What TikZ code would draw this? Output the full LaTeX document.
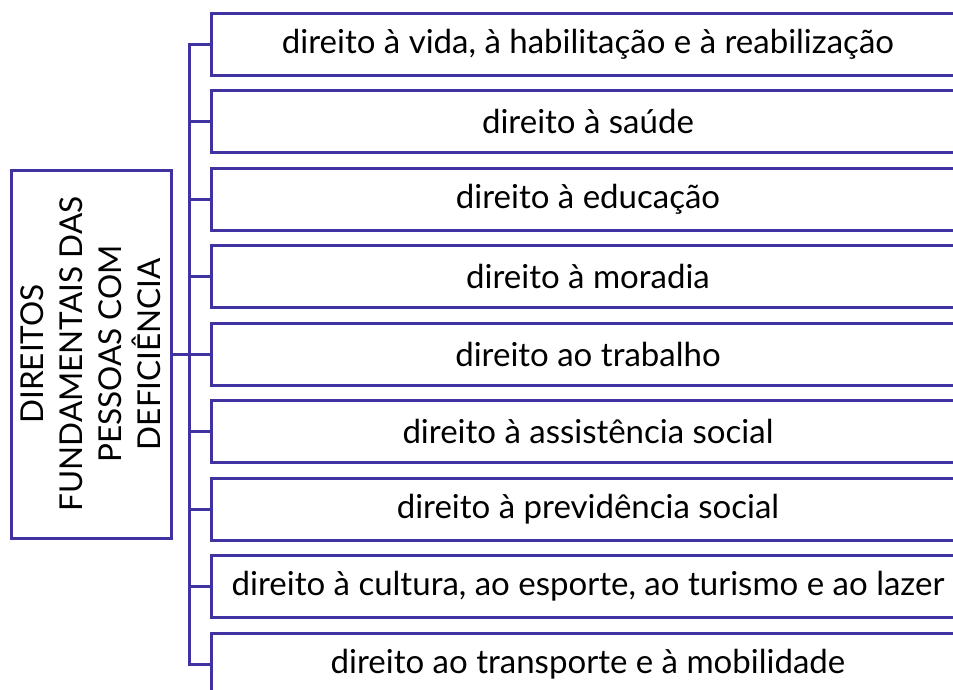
\documentclass[tikz,border=0pt]{standalone}
\usepackage{fontspec}
\setmainfont{Lato}
\definecolor{frame}{RGB}{64,50,160}
\begin{document}
\begin{tikzpicture}[x=1pt,y=-1pt,
  rbox/.style={draw=frame,line width=3pt,minimum width=754pt,minimum height=62pt,inner sep=0pt,font=\fontsize{33}{38}\selectfont,text=black},
  lbox/.style={draw=frame,line width=3pt,rotate=90,minimum width=368pt,minimum height=160pt,inner sep=0pt,align=center,font=\fontsize{31.5}{39}\selectfont,text=black},
  conn/.style={draw=frame,line width=3pt}]
\useasboundingbox (0,0) rectangle (953,689);
\clip (0,0) rectangle (953,689);
\node[lbox] (L) at (91,354) {DIREITOS\\FUNDAMENTAIS DAS\\PESSOAS COM\\DEFICIÊNCIA};
\node[rbox] (b1) at (588,44) {direito à vida, à habilitação e à reabilização};
\node[rbox] (b2) at (588,121.5) {direito à saúde};
\node[rbox] (b3) at (588,199) {direito à educação};
\node[rbox] (b4) at (588,276.5) {direito à moradia};
\node[rbox] (b5) at (588,354) {direito ao trabalho};
\node[rbox] (b6) at (588,431.5) {direito à assistência social};
\node[rbox] (b7) at (588,509) {direito à previdência social};
\node[rbox] (b8) at (588,586.5) {direito à cultura, ao esporte, ao turismo e ao lazer};
\node[rbox] (b9) at (588,664) {direito ao transporte e à mobilidade};
\draw[conn] (b1.west) -- ++(-20,0) coordinate (top) |- (b9.west);
\foreach \i in {2,...,8} { \draw[conn] (b\i.west) -- ++(-20,0); }
\draw[conn] (L.south) -- ++(20,0);
\end{tikzpicture}
\end{document}
